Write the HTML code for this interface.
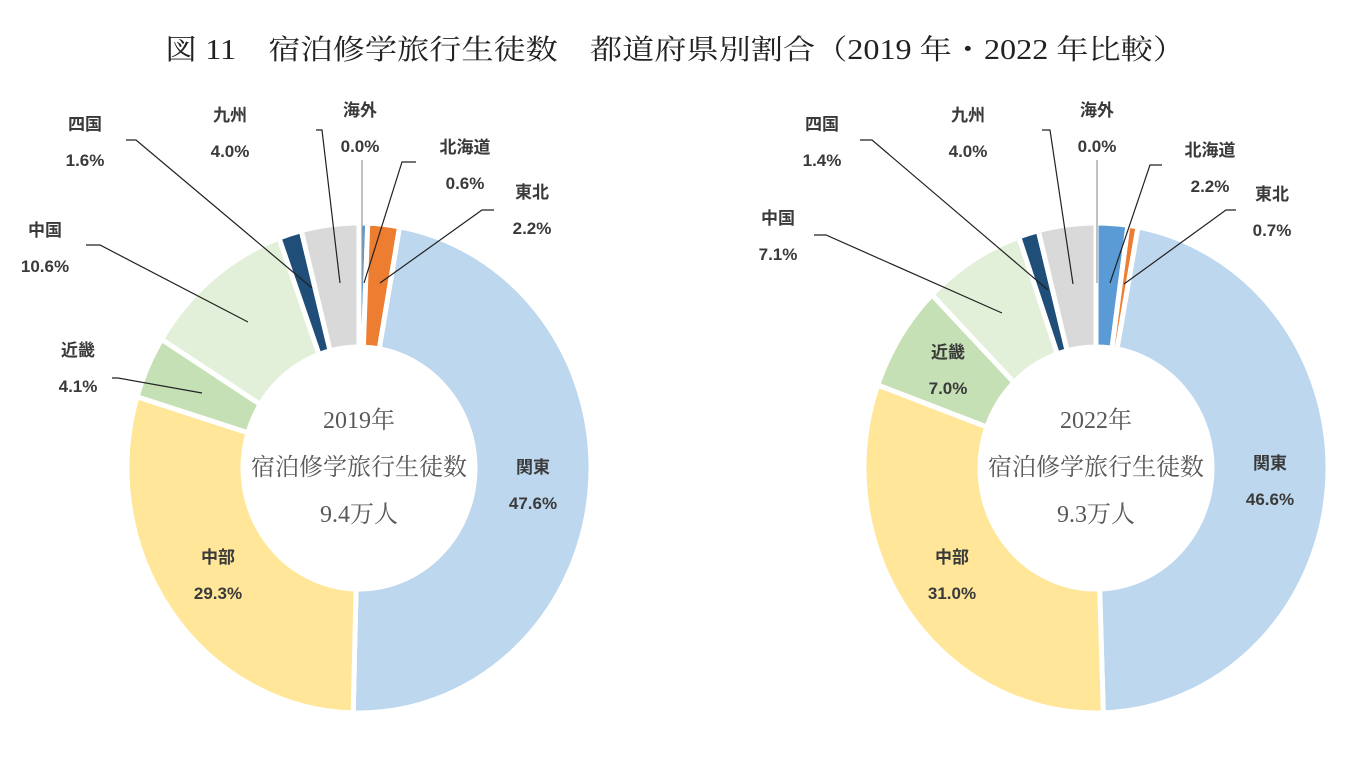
<!DOCTYPE html>
<html><head><meta charset="utf-8">
<style>
html,body{margin:0;padding:0;background:#fff;}
body{width:1369px;height:767px;overflow:hidden;}
svg{display:block;}
.lab{font-family:"Liberation Sans","Noto Sans CJK JP",sans-serif;font-weight:bold;font-size:17px;fill:#3a3a3a;text-anchor:middle;}
.ctr{font-family:"Liberation Serif","Noto Serif CJK SC",serif;font-size:24px;fill:#595959;text-anchor:middle;}
.ttl{font-family:"Liberation Serif","Noto Serif CJK SC",serif;font-size:28px;fill:#222;}
</style></head>
<body>
<svg id="chart" width="1369" height="767">
<text class="ttl" x="165" y="59" textLength="1020" lengthAdjust="spacingAndGlyphs">図 11　宿泊修学旅行生徒数　都道府県別割合（2019 年・2022 年比較）</text>
</svg>
<script>
const categories = ['海外','北海道','東北','関東','中部','近畿','中国','四国','九州'];
const values2019 = [0.0, 0.6, 2.2, 47.6, 29.3, 4.1, 10.6, 1.6, 4.0];
const values2022 = [0.0, 2.2, 0.7, 46.6, 31.0, 7.0, 7.1, 1.4, 4.0];
const years = ['2019年','2022年'];
const totals = ['9.4万人','9.3万人'];
const colors = ['#8faadc','#5b9bd5','#ed7d31','#bdd7ee','#ffe699','#c5e0b4','#e2f0d9','#1f4e79','#d9d9d9'];

const svg = document.getElementById('chart');
const NS = 'http://www.w3.org/2000/svg';
function mk(tag, attrs){const e=document.createElementNS(NS,tag);for(const k in attrs)e.setAttribute(k,attrs[k]);svg.appendChild(e);return e;}

const layouts = [
 {cx:359, cy:468, lab:[
  [360,116,[[362,160],[362,283]]],
  [465,153,[[416,162],[402,162],[364,283]]],
  [532,198,[[494,210],[482,210],[380,283]]],
  [533,473,null],[218,563,null],
  [78,356,[[112,378],[118,378],[202,393]]],
  [45,236,[[86,245],[100,245],[248,322]]],
  [85,130,[[126,140],[136,140],[312,288]]],
  [230,121,[[316,130],[322,130],[340,283]]]
 ]},
 {cx:1096, cy:468, lab:[
  [1097,116,[[1097,160],[1097,283]]],
  [1210,156,[[1162,165],[1150,165],[1110,283]]],
  [1272,200,[[1236,210],[1226,210],[1124,284]]],
  [1270,469,null],[952,563,null],
  [948,358,null],
  [778,224,[[814,235],[826,235],[1002,313]]],
  [822,130,[[860,140],[872,140],[1048,290]]],
  [968,121,[[1042,130],[1050,130],[1073,284]]]
 ]}
];
const RX = 232, RY = 245, rx = 116, ry = 121;
function pt(cx,cy,ax,ay,frac){const a=frac*2*Math.PI - Math.PI/2;return [cx+ax*Math.cos(a), cy+ay*Math.sin(a)];}

[values2019, values2022].forEach((vals, ci) => {
  const L = layouts[ci];
  const total = vals.reduce((a,b)=>a+b,0);
  let acc = 0;
  vals.forEach((v,i) => {
    const f0 = acc/total, f1 = (acc+v)/total; acc += v;
    if (v <= 0) return;
    const large = (f1-f0) > 0.5 ? 1 : 0;
    const [x0,y0]=pt(L.cx,L.cy,RX,RY,f0),[x1,y1]=pt(L.cx,L.cy,RX,RY,f1);
    const [x2,y2]=pt(L.cx,L.cy,rx,ry,f1),[x3,y3]=pt(L.cx,L.cy,rx,ry,f0);
    const p = mk('path',{d:`M${x0},${y0}A${RX},${RY} 0 ${large} 1 ${x1},${y1}L${x2},${y2}A${rx},${ry} 0 ${large} 0 ${x3},${y3}Z`,fill:colors[i],stroke:'#fff','stroke-width':5});
    
    
  });
  L.lab.forEach((lb,i) => {
    if (lb[2]) {
      const ln = mk('polyline',{points:lb[2].map(p=>p.join(',')).join(' '),fill:'none',stroke:i===0?'#999':'#222','stroke-width':1.2});
      
      
    }
    const t1 = mk('text',{class:'lab',x:lb[0],y:lb[1]}); t1.textContent = categories[i];
    
    
    const t2 = mk('text',{class:'lab',x:lb[0],y:lb[1]+36}); t2.textContent = vals[i].toFixed(1)+'%';
    
    
  });
  const lines = [years[ci],'宿泊修学旅行生徒数',totals[ci]];
  lines.forEach((s,k) => {
    const t = mk('text',{class:'ctr',x:L.cx,y:L.cy-40+k*47}); t.textContent = s;
    
    
  });
});
</script>
</body></html>
